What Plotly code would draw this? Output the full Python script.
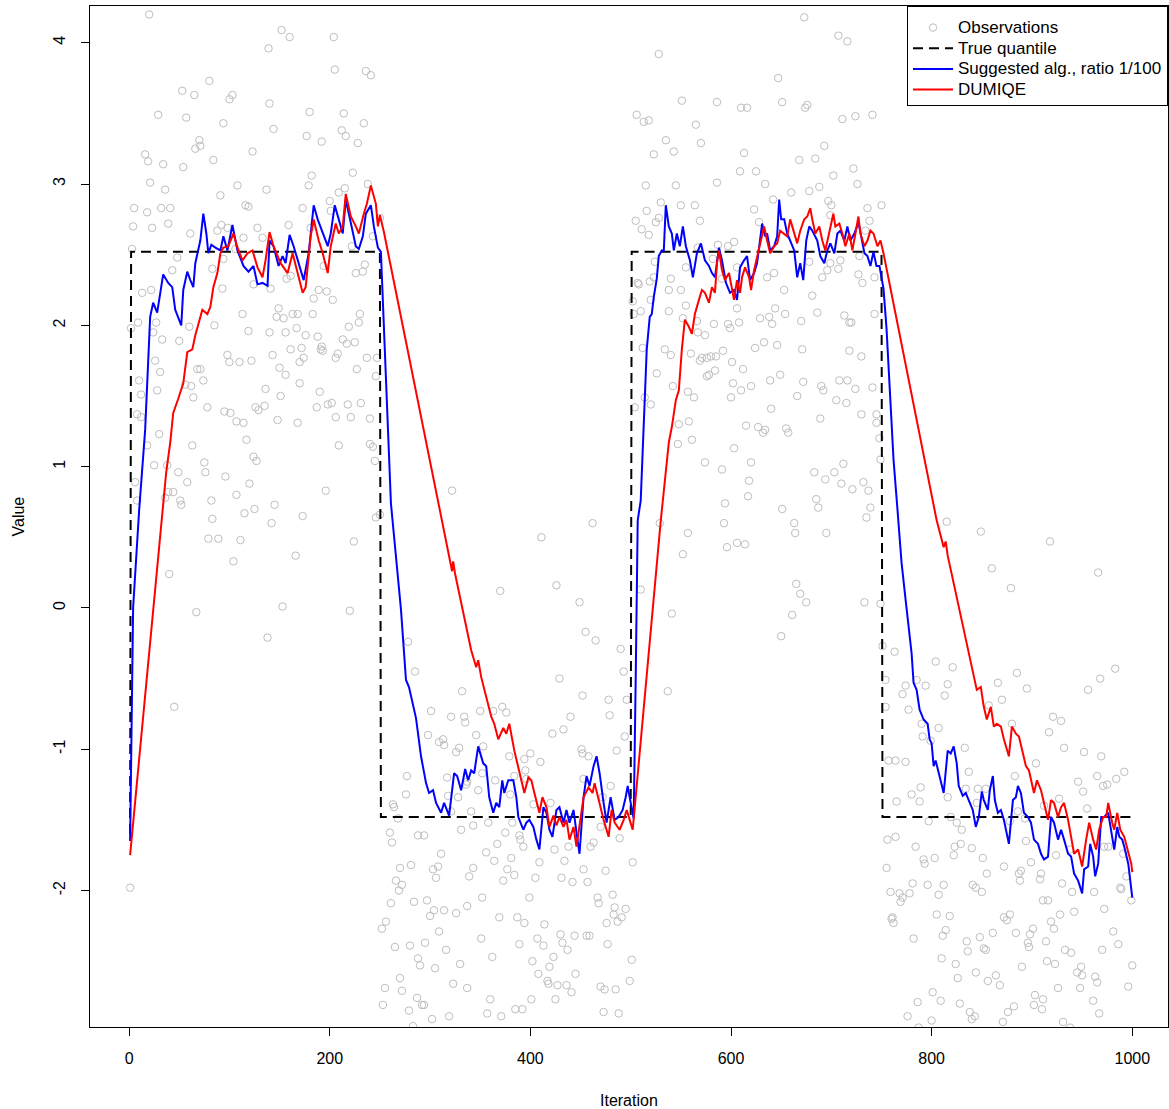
import plotly.graph_objects as go

# ---------------- data ----------------
# observations: (iteration, value)
obs_high1 = [
(20,4.20),(152,4.09),(160,4.04),(204,4.04),(139,3.96),(205,3.81),(236,3.80),(241,3.77),(80,3.73),(53,3.66),(65,3.63),(103,3.63),(100,3.60),(140,3.57),(180,3.51),(214,3.50),(29,3.49),(57,3.47),(94,3.43),(234,3.43),(144,3.39),(212,3.38),(216,3.34),(177,3.34),(192,3.30),(228,3.29),(70,3.31),(66,3.25),(71,3.27),(123,3.23),(16,3.21),(19,3.16),(34,3.14),(54,3.12),(84,3.17),(223,3.08),(182,3.06),(179,2.99),(21,3.01),(36,2.96),(108,2.99),(137,2.96),(238,3.00),(91,2.92),(215,2.97),(209,2.94),(200,2.88),(116,2.85),(119,2.84),(173,2.83),(5,2.83),(18,2.80),(32,2.83),(41,2.83),(201,2.81),(4,2.70),(23,2.69),(39,2.72),(61,2.65),(88,2.67),(92,2.71),(98,2.69),(128,2.69),(159,2.71),(181,2.69),(250,2.76),(3,2.54),(48,2.48),(114,2.62),(133,2.62),(243,2.63),(222,2.56),(43,2.39),(83,2.40),(94,2.47),(106,2.54),(194,2.42),(235,2.43),(233,2.38),(226,2.37),(161,2.35),(157,2.33),(13,2.23),(22,2.25),(93,2.26),(124,2.29),(141,2.26),(189,2.25),(197,2.24),(203,2.18),(184,2.19),(149,2.12),(113,2.08),(147,2.06),(154,2.05),(163,2.08),(168,2.08),(183,2.08),(230,2.08),(229,2.02),(9,2.02),(2,1.98),(27,2.02),(24,1.95),(60,1.99),(85,2.00),(119,1.96),(140,1.95),(156,1.95),(167,1.98),(219,1.99),(33,1.90),(50,1.89),(176,1.93),(188,1.92),(213,1.90),(217,1.87),(225,1.88),(192,1.85),(193,1.82),(191,1.83),(172,1.84),(161,1.83),(143,1.79),(98,1.79),(100,1.74),(110,1.74),(122,1.75),(26,1.75),(31,1.67),(150,1.70),(156,1.65),(170,1.74),(174,1.77),(208,1.80),(206,1.77),(237,1.77),(247,1.77),(227,1.69),(246,1.64),(10,1.61),(12,1.51),(28,1.54),(56,1.58),(62,1.57),(74,1.61),(68,1.69),(71,1.69),(64,1.49),(136,1.55),(151,1.50),(170,1.59),(190,1.53),(187,1.42),(198,1.44),(202,1.45),(218,1.44),(231,1.45),(78,1.42),(95,1.39),(101,1.38),(107,1.32),(114,1.31),(126,1.42),(135,1.43),(129,1.40),(148,1.33),(168,1.31),(206,1.35),(221,1.35),(240,1.34),(8,1.37),(12,1.35),(30,1.23),(18,1.15),(63,1.15),(117,1.19),(209,1.15),(240,1.16),(243,1.14),(245,1.04),(124,1.07),(127,1.04),(75,1.03),(76,0.96),(25,1.01),(49,0.96),(38,1.01),(96,0.93),(120,0.88),(58,0.89),(6,0.89),(8,0.76),(36,0.78),(44,0.82),(39,0.82),(51,0.76),(52,0.73),(82,0.76),(107,0.80),(196,0.83),(145,0.73),(125,0.70),(115,0.67),(173,0.65),(83,0.63),(246,0.64),(250,0.66),
(142,0.60),(79,0.49),(89,0.49),(111,0.48),(224,0.47),(104,0.33),(166,0.37),(40,0.24),(67,-0.03),(153,0.01),(220,-0.02),(138,-0.21),(45,-0.70),(1,-1.98),
]

obs_low1 = [
(322,0.83),(462,0.60),(411,0.50),(370,0.12),(426,0.16),(449,0.04),(455,-0.17),(465,-0.23),(490,-0.29),(493,-0.45),(429,-0.50),(452,-0.62),(478,-0.65),(479,-0.76),(496,-0.65),(440,-0.77),(433,-0.86),(422,-0.89),(494,-0.91),(486,-1.01),
(278,-0.24),(285,-0.45),(332,-0.59),(301,-0.73),(321,-0.77),(334,-0.77),(335,-0.81),(350,-0.73),(363,-0.73),(372,-0.70),(376,-0.74),(298,-0.90),(309,-0.95),(313,-0.93),(314,-0.97),(329,-0.99),(326,-1.02),(346,-0.90),(353,-0.98),(394,-1.07),(400,-1.03),(410,-1.09),(379,-1.05),(451,-1.00),(452,-1.03),(458,-1.05),
(277,-1.19),(276,-1.32),(317,-1.20),(318,-1.33),(328,-1.34),(336,-1.25),(337,-1.23),(348,-1.29),(352,-1.17),(365,-1.22),(380,-1.32),(384,-1.19),(395,-1.15),(396,-1.21),(403,-1.39),(420,-1.38),(453,-1.21),(472,-1.34),(480,-1.26),
(263,-1.39),(264,-1.41),(268,-1.49),(321,-1.44),(341,-1.44),(343,-1.54),(358,-1.52),(331,-1.57),(382,-1.52),(260,-1.59),(262,-1.66),(288,-1.61),(294,-1.61),(375,-1.59),(367,-1.67),(389,-1.61),(390,-1.64),(393,-1.69),(424,-1.71),(438,-1.69),(434,-1.79),(409,-1.80),(460,-1.69),(463,-1.66),(470,-1.55),(489,-1.63),(502,-1.80),
(311,-1.74),(356,-1.73),(364,-1.79),(381,-1.77),(270,-1.84),(281,-1.82),(303,-1.85),(308,-1.83),(306,-1.91),(343,-1.84),(339,-1.90),(377,-1.85),(384,-1.89),(373,-1.93),(405,-1.91),(431,-1.91),(442,-1.94),(453,-1.85),(457,-1.94),(475,-1.86),
(266,-1.93),(272,-1.96),(269,-2.00),(261,-2.09),(284,-2.08),(297,-2.07),(304,-2.14),(300,-2.18),(314,-2.14),(326,-2.16),(337,-2.11),(352,-2.05),(369,-2.19),(387,-2.19),(394,-2.23),(399,-2.05),(414,-2.24),(467,-2.05),(468,-2.09),(482,-2.03),(484,-2.12),(495,-2.13),(483,-2.17),(487,-2.22),(491,-2.19),(476,-2.23),
(252,-2.27),(256,-2.22),(309,-2.29),(265,-2.40),(280,-2.39),(295,-2.37),(316,-2.42),(351,-2.34),(389,-2.38),(407,-2.34),(413,-2.39),(430,-2.31),(432,-2.37),(437,-2.42),(444,-2.32),(456,-2.32),(459,-2.32),(477,-2.38),
(288,-2.48),(290,-2.53),(305,-2.55),(330,-2.52),(362,-2.47),(402,-2.50),(423,-2.47),(419,-2.54),(445,-2.59),(501,-2.49),(270,-2.62),(255,-2.69),(272,-2.71),(287,-2.76),(323,-2.66),(337,-2.69),(360,-2.77),(401,-2.77),(408,-2.59),(417,-2.64),(418,-2.66),(427,-2.67),(436,-2.67),(441,-2.72),(425,-2.77),(470,-2.68),(474,-2.70),(485,-2.70),(499,-2.64),
(253,-2.81),(279,-2.85),(292,-2.81),(294,-2.81),(302,-2.91),(319,-2.89),(357,-2.87),(371,-2.89),(385,-2.84),(392,-2.84),(473,-2.86),(488,-2.87),(283,-2.96),
]

obs_high2 = [
(673,4.18),(707,4.05),(716,4.01),(528,3.92),(647,3.75),(551,3.59),(586,3.58),(651,3.58),(610,3.54),(616,3.54),(674,3.54),(676,3.56),(506,3.49),(513,3.44),(518,3.45),(711,3.46),(724,3.48),(565,3.42),(535,3.31),(570,3.29),(543,3.23),(523,3.21),(613,3.22),(693,3.27),(668,3.17),(684,3.18),(609,3.09),(625,3.09),(702,3.06),(722,3.11),(586,3.01),(634,3.00),(515,2.99),(545,2.99),(660,2.94),(678,2.95),(688,2.98),(726,3.00),(642,2.89),(530,2.87),(550,2.85),(564,2.85),(623,2.82),(697,2.88),(700,2.85),(736,2.83),(516,2.81),
(505,2.74),(511,2.68),(518,2.64),(525,2.73),(528,2.76),(569,2.74),(628,2.73),(699,2.78),(738,2.74),(734,2.67),(587,2.57),(597,2.56),(603,2.59),(567,2.55),(524,2.45),(555,2.41),(582,2.47),(606,2.41),(678,2.45),(699,2.44),(709,2.46),(707,2.40),(728,2.49),
(508,2.29),(507,2.30),(519,2.31),(523,2.34),(540,2.33),(538,2.25),(550,2.25),(591,2.33),(636,2.34),(643,2.37),(653,2.25),(681,2.21),(691,2.34),(696,2.39),(727,2.36),(731,2.30),(502,2.17),(520,2.18),(503,2.08),(510,2.10),(538,2.10),(555,2.14),(606,2.12),(644,2.12),(654,2.08),(686,2.09),(629,2.05),(638,2.06),(641,2.01),(670,2.03),(713,2.07),(718,2.02),(720,2.02),(552,2.05),(566,2.03),(583,2.01),(597,2.01),(599,1.98),(608,2.02),(567,1.95),(574,1.93),
(512,1.84),(534,1.83),(540,1.79),(560,1.80),(571,1.77),(576,1.77),(580,1.78),(585,1.78),(592,1.82),(601,1.74),(624,1.84),(633,1.88),(646,1.86),(671,1.83),(718,1.82),(730,1.78),(526,1.66),(569,1.75),(576,1.64),(578,1.65),(584,1.68),(612,1.69),(649,1.65),(602,1.59),(610,1.54),(620,1.57),(639,1.61),(672,1.60),(690,1.57),(692,1.54),(708,1.61),(716,1.61),(724,1.55),(542,1.57),
(514,1.49),(520,1.44),(557,1.53),(563,1.49),(600,1.49),(666,1.50),(705,1.47),(715,1.45),(504,1.42),(640,1.41),(548,1.30),(558,1.32),(615,1.29),(627,1.28),(632,1.24),(634,1.26),(655,1.27),(657,1.24),(689,1.34),(730,1.37),(547,1.16),(561,1.19),(603,1.13),(574,1.03),(620,1.03),(591,0.98),(618,0.90),(683,0.96),(694,0.91),(703,0.96),(712,1.02),(710,0.88),(721,0.84),(732,0.89),(737,0.83),(594,0.74),(617,0.79),(651,0.70),(685,0.77),(687,0.71),(739,0.71),(735,0.64),
(529,0.60),(557,0.53),(593,0.60),(606,0.46),(614,0.45),(596,0.43),(552,0.38),(663,0.60),(664,0.53),(695,0.53),(665,0.17),(669,0.10),(675,0.04),(661,-0.05),(650,-0.20),(733,0.04),(510,0.13),(541,-0.04),(537,-0.59),
(741,3.49),(750,2.85),(743,2.34),(743,2.08),(741,1.56),(745,1.37),(745,1.31),(748,1.20),(749,1.05),
]

obs_low2 = [
(815,0.61),(849,0.54),(918,0.47),(860,0.28),(966,0.25),(879,0.14),(749,0.03),(751,-0.27),(763,-0.31),(804,-0.38),(821,-0.42),(885,-0.46),(968,-0.50),(983,-0.43),(956,-0.58),(895,-0.57),(866,-0.53),(754,-0.51),(774,-0.55),(771,-0.61),(785,-0.51),(794,-0.55),(816,-0.54),(813,-0.62),(870,-0.65),(754,-0.70),(777,-0.72),(857,-0.69),(921,-0.77),(929,-0.80),(880,-0.82),(917,-0.88),(807,-0.85),(790,-0.82),(791,-0.91),(799,-0.94),(833,-0.99),(932,-0.99),(952,-1.02),(969,-1.05),(904,-1.10),(757,-1.08),(764,-1.08),(774,-1.09),
(837,-1.16),(883,-1.19),(965,-1.19),(984,-1.21),(992,-1.16),(946,-1.23),(951,-1.30),(971,-1.26),(975,-1.25),(780,-1.32),(789,-1.27),(788,-1.37),(765,-1.37),(816,-1.34),(834,-1.28),(846,-1.28),(854,-1.28),(845,-1.38),(927,-1.35),(955,-1.42),(797,-1.51),(819,-1.48),(825,-1.52),(830,-1.57),(878,-1.51),(886,-1.44),(893,-1.49),
(756,-1.64),(764,-1.62),(784,-1.69),(823,-1.69),(829,-1.67),(840,-1.70),(851,-1.77),(894,-1.65),(912,-1.40),(924,-1.75),(938,-1.71),(972,-1.69),(976,-1.69),(991,-1.74),(792,-1.78),(793,-1.81),(803,-1.77),(822,-1.75),(755,-1.84),(872,-1.83),(899,-1.80),(855,-1.88),(887,-1.88),(889,-1.86),(888,-1.93),(908,-1.92),(909,-1.88),(994,-1.90),
(759,-2.01),(768,-2.02),(771,-2.05),(769,-2.08),(778,-2.02),(781,-1.95),(796,-1.96),(807,-2.03),(812,-1.96),(841,-1.96),(844,-1.98),(850,-2.01),(930,-1.95),(940,-2.01),(962,-2.01),(988,-1.98),(989,-1.99),(999,-2.07),(911,-2.07),(916,-2.07),
(760,-2.20),(761,-2.19),(762,-2.23),(805,-2.17),(818,-2.18),(872,-2.19),(875,-2.21),(878,-2.17),(928,-2.17),(942,-2.15),(972,-2.13),(919,-2.22),(922,-2.27),(901,-2.27),(898,-2.31),(884,-2.30),(861,-2.30),(814,-2.28),(811,-2.32),(782,-2.34),(835,-2.36),(836,-2.43),(848,-2.33),(852,-2.41),(854,-2.42),(896,-2.37),(897,-2.40),(914,-2.36),(933,-2.42),(939,-2.44),(970,-2.42),(981,-2.29),(986,-2.38),
(810,-2.48),(824,-2.52),(844,-2.58),(890,-2.54),(915,-2.50),(923,-2.52),(945,-2.58),(949,-2.54),(950,-2.60),(948,-2.69),(963,-2.61),(965,-2.65),(1000,-2.53),(996,-2.68),(826,-2.62),(856,-2.64),(864,-2.60),(868,-2.67),(926,-2.69),(801,-2.72),(809,-2.78),(786,-2.79),(828,-2.80),(876,-2.86),(882,-2.82),(903,-2.74),(902,-2.81),(911,-2.77),(910,-2.84),(961,-2.78),(967,-2.87),(776,-2.89),(800,-2.92),(838,-2.86),(840,-2.91),(843,-2.89),(871,-2.93),(931,-2.93),(787,-2.97),(938,-2.97),
]

# true quantile (step function)
quantile_iter = [1, 2, 250, 251, 500, 501, 750, 751, 1000]
quantile_value = [-1.60, 2.52, 2.52, -1.48, -1.48, 2.52, 2.52, -1.48, -1.48]

# suggested algorithm, ratio 1/100 (blue)
suggested_path = [
(1,-1.65),(4,0.0),(10,0.69),(13,0.98),(16,1.26),(21,2.06),(24,2.16),(28,2.09),(31,2.23),(34,2.36),(39,2.30),(43,2.27),(46,2.11),(52,2.00),(54,2.25),(58,2.38),(61,2.32),(64,2.27),(66,2.44),(68,2.51),(71,2.60),(74,2.79),(77,2.65),(79,2.51),(82,2.57),(86,2.55),(91,2.53),(94,2.63),(98,2.53),(103,2.71),(108,2.53),(114,2.42),(119,2.38),(124,2.42),(128,2.29),(133,2.30),(138,2.28),(140,2.60),(144,2.56),(149,2.42),(153,2.49),(156,2.44),(160,2.64),(164,2.56),(169,2.44),(174,2.32),(179,2.51),(184,2.85),(188,2.75),(193,2.65),(198,2.56),(201,2.65),(205,2.85),(209,2.75),(213,2.65),(216,2.89),(221,2.72),(226,2.56),(229,2.54),(233,2.63),(236,2.79),(241,2.85),(244,2.70),(248,2.55),(251,2.52),(254,1.95),(258,1.24),(261,0.74),
(271,-0.01),(276,-0.51),(279,-0.56),(283,-0.70),(286,-0.78),(291,-1.05),(296,-1.24),(299,-1.31),(303,-1.29),(306,-1.38),(311,-1.45),(314,-1.38),(319,-1.47),(324,-1.17),(327,-1.19),(331,-1.29),(335,-1.14),(338,-1.22),(341,-1.15),(344,-1.17),(348,-0.98),(353,-1.10),(356,-1.12),(359,-1.34),(363,-1.45),(366,-1.38),(369,-1.41),(372,-1.22),(374,-1.31),(378,-1.22),(383,-1.22),(386,-1.34),(388,-1.48),(393,-1.57),(396,-1.52),(399,-1.50),(403,-1.55),(406,-1.64),(409,-1.71),(413,-1.41),(416,-1.45),(419,-1.57),(422,-1.62),(426,-1.43),(429,-1.41),(433,-1.52),(436,-1.43),(439,-1.52),(443,-1.43),(446,-1.59),(449,-1.74),(453,-1.34),(456,-1.19),(459,-1.26),(463,-1.12),(466,-1.05),(469,-1.17),(473,-1.38),(476,-1.52),(480,-1.34),(484,-1.50),(488,-1.48),(492,-1.43),(495,-1.34),(497,-1.26),(500,-1.38),(503,-1.49),
(505,-0.50),(507,0.62),(510,0.76),(513,1.35),(516,1.83),(519,2.06),(521,2.08),(523,2.20),(526,2.33),(528,2.49),(531,2.53),(533,2.53),(535,2.85),(538,2.70),(541,2.65),(543,2.53),(546,2.65),(549,2.56),(552,2.70),(555,2.56),(559,2.46),(562,2.34),(566,2.51),(570,2.58),(574,2.46),(578,2.42),(581,2.37),(584,2.34),(588,2.55),(591,2.46),(595,2.30),(599,2.23),(603,2.25),(606,2.18),(609,2.41),(613,2.46),(616,2.49),(619,2.32),(623,2.37),(626,2.44),(631,2.72),(634,2.63),(636,2.65),(639,2.53),(643,2.56),(646,2.63),(648,2.89),(650,2.75),(653,2.75),(656,2.65),(659,2.60),(663,2.53),(666,2.34),(669,2.44),(672,2.32),(675,2.60),(678,2.70),(681,2.67),(686,2.60),(689,2.49),(693,2.44),(696,2.53),(699,2.58),(703,2.51),(706,2.65),(709,2.67),(713,2.60),(716,2.70),(719,2.60),(723,2.65),(727,2.73),(729,2.65),(733,2.51),(736,2.49),(739,2.42),(742,2.52),(745,2.42),(748,2.42),(750,2.34),(752,2.26),(755,1.98),(758,1.60),(762,1.05),(766,0.69),(770,0.32),
(774,0.06),(777,-0.11),(780,-0.32),(782,-0.53),(785,-0.58),(788,-0.72),(792,-0.79),(796,-0.82),(798,-0.93),(800,-0.96),(802,-1.12),(804,-1.08),(807,-1.17),(810,-1.24),(812,-1.31),(816,-1.01),(819,-1.03),(822,-0.98),(825,-1.10),(827,-1.26),(831,-1.33),(834,-1.31),(837,-1.36),(841,-1.43),(844,-1.55),(847,-1.48),(850,-1.30),(852,-1.36),(856,-1.43),(858,-1.29),(861,-1.19),(863,-1.36),(866,-1.45),(869,-1.43),(872,-1.50),(877,-1.67),(881,-1.36),(884,-1.34),(886,-1.26),(889,-1.31),(892,-1.45),(896,-1.48),(899,-1.52),(902,-1.64),(906,-1.67),(909,-1.74),(912,-1.78),(916,-1.76),(919,-1.48),(922,-1.52),(926,-1.64),(929,-1.57),(932,-1.64),(936,-1.74),(939,-1.76),(942,-1.88),(946,-1.93),(950,-2.02),(952,-1.85),(956,-1.83),(958,-1.67),(961,-1.76),(963,-1.90),(966,-1.81),(969,-1.48),(972,-1.48),(976,-1.45),(979,-1.57),(982,-1.71),(985,-1.55),(987,-1.62),(990,-1.64),(992,-1.69),(996,-1.81),(998,-1.95),(1000,-2.05),
]

# DUMIQE (red)
dumiqe_path = [
(1,-1.75),(33,0.65),(37,0.96),(41,1.17),(44,1.38),(49,1.48),(54,1.59),(58,1.81),(63,1.83),(66,1.93),(69,2.00),(73,2.11),(78,2.08),(81,2.13),(84,2.27),(88,2.37),(91,2.51),(94,2.55),(99,2.56),(104,2.65),(108,2.55),(113,2.46),(118,2.51),(123,2.53),(128,2.41),(133,2.34),(136,2.46),(140,2.66),(144,2.56),(151,2.44),(158,2.37),(163,2.51),(168,2.37),(173,2.23),(176,2.27),(181,2.63),(184,2.75),(189,2.60),(193,2.51),(198,2.37),(201,2.56),(206,2.72),(209,2.65),(213,2.70),(216,2.93),(221,2.77),(226,2.70),(229,2.65),(234,2.79),(237,2.86),(241,2.99),(246,2.86),(248,2.70),(250,2.78),(254,2.66),
(320,0.32),(322,0.26),(323,0.33),(325,0.24),(341,-0.30),(346,-0.42),(348,-0.37),(351,-0.49),(361,-0.77),(364,-0.82),(368,-0.93),(373,-0.85),(376,-0.89),(379,-0.82),(384,-1.01),(389,-1.17),(394,-1.31),(398,-1.20),(401,-1.22),(404,-1.31),(409,-1.45),(412,-1.34),(416,-1.41),(419,-1.55),(423,-1.47),(426,-1.54),(429,-1.48),(433,-1.55),(436,-1.50),(439,-1.64),(443,-1.55),(446,-1.69),(449,-1.55),(453,-1.34),(458,-1.27),(462,-1.31),(464,-1.24),(468,-1.36),(473,-1.50),(478,-1.62),(481,-1.43),(484,-1.52),(489,-1.57),(493,-1.50),(496,-1.43),(499,-1.50),(502,-1.57),
(530,0.62),(535,0.95),(538,1.17),(541,1.28),(545,1.47),(548,1.54),(551,1.83),(554,2.04),(558,1.99),(561,1.94),(564,2.08),(568,2.18),(571,2.25),(574,2.23),(578,2.16),(581,2.27),(584,2.23),(586,2.44),(588,2.53),(591,2.39),(594,2.32),(598,2.37),(601,2.27),(603,2.18),(606,2.32),(609,2.23),(611,2.34),(614,2.41),(618,2.34),(620,2.25),(623,2.39),(626,2.49),(630,2.60),(633,2.70),(636,2.60),(639,2.51),(643,2.56),(646,2.58),(649,2.67),(653,2.65),(656,2.63),(659,2.75),(663,2.65),(666,2.58),(669,2.67),(673,2.75),(676,2.77),(679,2.83),(681,2.75),(684,2.65),(688,2.70),(691,2.60),(694,2.53),(698,2.65),(702,2.79),(704,2.70),(708,2.72),(711,2.65),(714,2.56),(718,2.65),(721,2.53),(724,2.65),(727,2.77),(729,2.65),(733,2.56),(736,2.60),(739,2.67),(742,2.65),(746,2.56),(749,2.60),(752,2.51),
(805,0.62),(812,0.43),(814,0.47),(816,0.37),(845,-0.58),(849,-0.56),(852,-0.70),(855,-0.79),(859,-0.70),(862,-0.84),(865,-0.82),(869,-0.84),(872,-0.93),(877,-1.05),(880,-0.84),(884,-0.89),(887,-0.91),(890,-1.01),(894,-1.12),(897,-1.15),(902,-1.31),(905,-1.22),(909,-1.29),(912,-1.38),(916,-1.50),(919,-1.36),(922,-1.38),(926,-1.48),(929,-1.41),(932,-1.38),(936,-1.50),(939,-1.62),(942,-1.74),(946,-1.71),(950,-1.83),(954,-1.64),(957,-1.52),(961,-1.64),(964,-1.71),(967,-1.57),(971,-1.48),(974,-1.48),(976,-1.38),(980,-1.52),(982,-1.57),(985,-1.45),(988,-1.57),(992,-1.62),(996,-1.74),(999,-1.81),(1000,-1.87),
]

x_tick_values = [0, 200, 400, 600, 800, 1000]
x_tick_labels = ["0", "200", "400", "600", "800", "1000"]
y_tick_values = [-2, -1, 0, 1, 2, 3, 4]
y_tick_labels = ["-2", "-1", "0", "1", "2", "3", "4"]
legend_names = ["Observations", "True quantile", "Suggested alg., ratio 1/100", "DUMIQE"]

# ---------------- figure ----------------
observations = obs_high1 + obs_low1 + obs_high2 + obs_low2
obs_iter = [p[0] for p in observations]
obs_value = [p[1] for p in observations]

FONT = "Liberation Sans, Arial, sans-serif"


def legend_label(s):
    # text drawn at 17px while the legend row spacing is computed from a smaller base size
    return '<span style="font-size:17px">' + s + "</span>"


fig = go.Figure()
fig.add_trace(go.Scatter(
    x=obs_iter, y=obs_value, mode="markers", name=legend_label(legend_names[0]),
    marker=dict(symbol="circle-open", size=7.5, color="#BEBEBE",
                line=dict(width=1, color="#BEBEBE")),
))
fig.add_trace(go.Scatter(
    x=quantile_iter, y=quantile_value, mode="lines", name=legend_label(legend_names[1]),
    line=dict(color="black", width=2, dash="10px,6px"),
))
fig.add_trace(go.Scatter(
    x=[p[0] for p in suggested_path], y=[p[1] for p in suggested_path],
    mode="lines", name=legend_label(legend_names[2]),
    line=dict(color="#0000FF", width=2),
))
fig.add_trace(go.Scatter(
    x=[p[0] for p in dumiqe_path], y=[p[1] for p in dumiqe_path],
    mode="lines", name=legend_label(legend_names[3]),
    line=dict(color="#FF0000", width=2),
))

axis_common = dict(
    showgrid=False, zeroline=False, showline=True, mirror=True,
    linecolor="black", linewidth=1, ticks="outside", ticklen=8,
    tickwidth=1, tickcolor="black",
    tickfont=dict(family=FONT, size=16, color="black"),
)

fig.update_layout(
    width=1169, height=1109,
    margin=dict(l=90, r=1, t=6, b=82),
    paper_bgcolor="white", plot_bgcolor="white",
    font=dict(family=FONT, size=16, color="black"),
    xaxis=dict(range=[-38.97, 1035.6], tickmode="array",
               tickvals=x_tick_values, ticktext=x_tick_labels,
               ticklabelstandoff=9, **axis_common),
    yaxis=dict(range=[-2.966, 4.26], tickmode="array",
               tickvals=y_tick_values, ticktext=y_tick_labels,
               tickangle=-90, ticklabelstandoff=10, **axis_common),
    legend=dict(x=1, y=1, xanchor="right", yanchor="top",
                bgcolor="white", bordercolor="black", borderwidth=1,
                font=dict(family=FONT, size=13.6, color="black"),
                title=dict(text="\u00a0", side="top",
                           font=dict(family=FONT, size=4, color="black")),
                tracegroupgap=0, itemwidth=40),
    showlegend=True,
    annotations=[
        dict(text="Iteration", xref="paper", yref="paper", x=0.5, y=0,
             xanchor="center", yanchor="middle", yshift=-73, showarrow=False,
             font=dict(family=FONT, size=16, color="black")),
        dict(text="Value", xref="paper", yref="paper", x=0, y=0.5,
             xanchor="center", yanchor="middle", xshift=-72, textangle=-90,
             showarrow=False, font=dict(family=FONT, size=16, color="black")),
    ],
)

fig.write_html(
    "out.html",
    config={"displayModeBar": False},
    post_script="document.body.style.margin='0';document.body.style.overflow='hidden';",
)
